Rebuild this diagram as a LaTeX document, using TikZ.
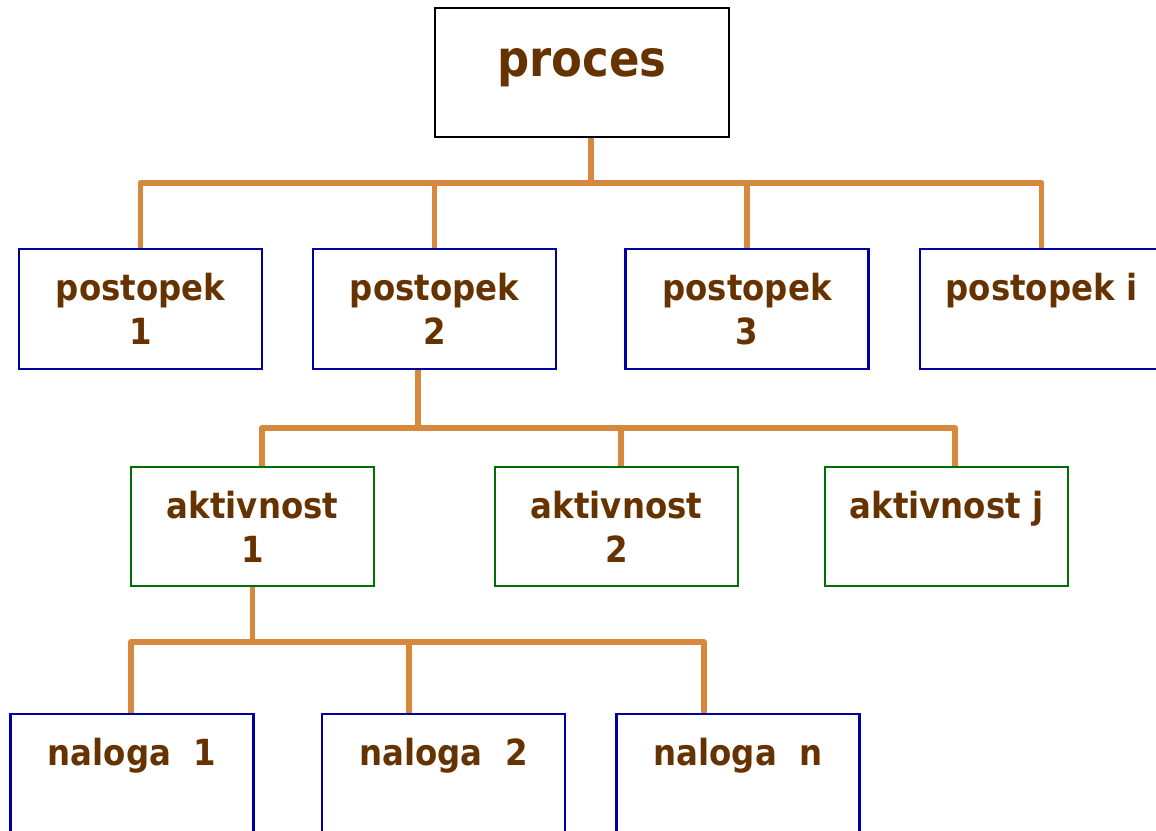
\documentclass[tikz,border=0pt]{standalone}
\usepackage{fontspec}
\setmainfont{DejaVu Sans}[FakeStretch=0.9]
\definecolor{textbrown}{RGB}{102,51,0}
\definecolor{linkorange}{RGB}{214,137,60}
\definecolor{boxblue}{RGB}{0,0,160}
\definecolor{boxgreen}{RGB}{0,110,0}
\tikzset{
  box/.style={draw, line width=2.2pt, minimum width=243pt, minimum height=120pt,
    inner sep=0pt, align=center, text=textbrown,
    font=\fontsize{36}{44}\selectfont\bfseries},
  bluebox/.style={box, draw=boxblue},
  greenbox/.style={box, draw=boxgreen, minimum height=119pt},
  link/.style={draw=linkorange, line width=5.5pt, line join=round},
}
\begin{document}
\begin{tikzpicture}[x=1pt,y=-1pt]
  \useasboundingbox (0,0) rectangle (1156,830);
  \clip (0,0) rectangle (1156,830);
  % root
  \node[box, draw=black, line width=1.8pt, minimum width=294pt, minimum height=129pt,
        font=\fontsize{50}{55}\selectfont\bfseries] (proces) at (582,72.5) {proces\\[-35pt]\mbox{}};
  % procedures
  \node[bluebox] (p1) at (140.5,309) {postopek\\1};
  \node[bluebox] (p2) at (434.5,309) {postopek\\2};
  \node[bluebox] (p3) at (747,309) {postopek\\3};
  \node[bluebox] (p4) at (1041.5,309) {postopek i\\\mbox{}};
  % activities
  \node[greenbox] (a1) at (252.5,526.5) {aktivnost\\1};
  \node[greenbox] (a2) at (616.5,526.5) {aktivnost\\2};
  \node[greenbox] (a3) at (946.5,526.5) {aktivnost j\\\mbox{}};
  % tasks
  \node[bluebox] (n1) at (132,774) {naloga\ \ 1\\\mbox{}};
  \node[bluebox] (n2) at (443.5,774) {naloga\ \ 2\\\mbox{}};
  \node[bluebox] (n3) at (738,774) {naloga\ \ n\\\mbox{}};
  % proces -> postopki
  \draw[link] ([xshift=9pt]proces.south) -- ++(0,47);
  \draw[link] (p1.north) -- ++(0,-65) -| (p4.north);
  \draw[link] (p2.north) -- ++(0,-65);
  \draw[link] (p3.north) -- ++(0,-65);
  % postopek 2 -> aktivnosti
  \draw[link] ([xshift=-16.5pt]p2.south) -- ++(0,60);
  \draw[link] ([xshift=9.5pt]a1.north) -- ++(0,-38) -| ([xshift=8.5pt]a3.north);
  \draw[link] ([xshift=4.5pt]a2.north) -- ++(0,-38);
  % aktivnost 1 -> naloge
  \draw[link] (a1.south) -- ++(0,57);
  \draw[link] ([xshift=-1pt]n1.north) -- ++(0,-71) -| ([xshift=-34pt]n3.north);
  \draw[link] ([xshift=-34.5pt]n2.north) -- ++(0,-71);
\end{tikzpicture}
\end{document}
